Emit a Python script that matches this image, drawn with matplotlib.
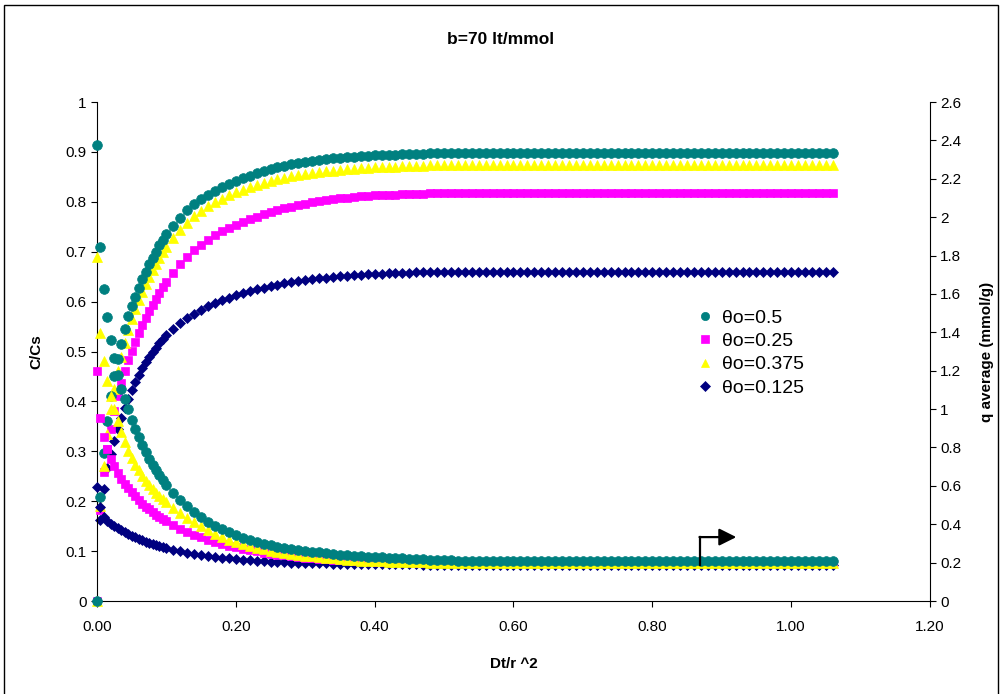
import matplotlib
matplotlib.use("Agg")
import matplotlib.pyplot as plt
from matplotlib.patches import Rectangle
from matplotlib.ticker import FuncFormatter

plt.rcParams['font.family'] = ['Liberation Sans', 'DejaVu Sans']

# Dt/r^2 sample times
t = [0, 0.005, 0.01, 0.015, 0.02, 0.025, 0.03, 0.035, 0.04, 0.045, 0.05,
     0.055, 0.06, 0.065, 0.07, 0.075, 0.08, 0.085, 0.09, 0.095, 0.1,
     0.11, 0.12, 0.13, 0.14, 0.15, 0.16, 0.17, 0.18, 0.19, 0.20,
     0.21, 0.22, 0.23, 0.24, 0.25, 0.26, 0.27, 0.28, 0.29, 0.30,
     0.31, 0.32, 0.33, 0.34, 0.35, 0.36, 0.37, 0.38, 0.39, 0.40,
     0.41, 0.42, 0.43, 0.44, 0.45, 0.46, 0.47, 0.48, 0.49, 0.50,
     0.51, 0.52, 0.53, 0.54, 0.55, 0.56, 0.57, 0.58, 0.59, 0.60,
     0.61, 0.62, 0.63, 0.64, 0.65, 0.66, 0.67, 0.68, 0.69, 0.70,
     0.71, 0.72, 0.73, 0.74, 0.75, 0.76, 0.77, 0.78, 0.79, 0.80,
     0.81, 0.82, 0.83, 0.84, 0.85, 0.86, 0.87, 0.88, 0.89, 0.90,
     0.91, 0.92, 0.93, 0.94, 0.95, 0.96, 0.97, 0.98, 0.99, 1.00,
     1.01, 1.02, 1.03, 1.04, 1.05, 1.06]

# C/Cs (left axis), rising curves
cc_050 = [0, 0.209, 0.296, 0.36, 0.41, 0.45, 0.485, 0.515, 0.545, 0.572, 0.592,
          0.61, 0.628, 0.645, 0.66, 0.675, 0.688, 0.70, 0.713, 0.724, 0.735,
          0.752, 0.768, 0.783, 0.796, 0.806, 0.814, 0.822, 0.829, 0.836, 0.842,
          0.847, 0.852, 0.857, 0.861, 0.865, 0.869, 0.872, 0.875, 0.878, 0.880,
          0.882, 0.884, 0.886, 0.887, 0.888, 0.889, 0.890, 0.891, 0.892, 0.893,
          0.893, 0.894, 0.894, 0.895, 0.895, 0.896, 0.896, 0.897, 0.897, 0.898,
          0.898, 0.898, 0.898, 0.898, 0.898, 0.898, 0.898, 0.898, 0.898, 0.898,
          0.898, 0.898, 0.898, 0.898, 0.898, 0.898, 0.898, 0.898, 0.898, 0.898,
          0.898, 0.898, 0.898, 0.898, 0.898, 0.898, 0.898, 0.898, 0.898, 0.898,
          0.898, 0.898, 0.898, 0.898, 0.898, 0.898, 0.898, 0.898, 0.898, 0.898,
          0.898, 0.898, 0.898, 0.898, 0.898, 0.898, 0.898, 0.898, 0.898, 0.898,
          0.898, 0.898, 0.898, 0.898, 0.898, 0.898]
cc_025 = [0, 0.182, 0.259, 0.305, 0.345, 0.38, 0.41, 0.437, 0.46, 0.482, 0.502,
          0.52, 0.537, 0.553, 0.567, 0.581, 0.594, 0.606, 0.618, 0.629, 0.639,
          0.658, 0.675, 0.69, 0.703, 0.714, 0.724, 0.733, 0.741, 0.748, 0.754,
          0.76, 0.765, 0.77, 0.775, 0.779, 0.783, 0.787, 0.79, 0.793, 0.796,
          0.799, 0.801, 0.803, 0.805, 0.807, 0.808, 0.81, 0.811, 0.812, 0.813,
          0.813, 0.814, 0.814, 0.815, 0.815, 0.816, 0.816, 0.817, 0.817, 0.818,
          0.818, 0.818, 0.818, 0.818, 0.818, 0.818, 0.818, 0.818, 0.818, 0.818,
          0.818, 0.818, 0.818, 0.818, 0.818, 0.818, 0.818, 0.818, 0.818, 0.818,
          0.818, 0.818, 0.818, 0.818, 0.818, 0.818, 0.818, 0.818, 0.818, 0.818,
          0.818, 0.818, 0.818, 0.818, 0.818, 0.818, 0.818, 0.818, 0.818, 0.818,
          0.818, 0.818, 0.818, 0.818, 0.818, 0.818, 0.818, 0.818, 0.818, 0.818,
          0.818, 0.818, 0.818, 0.818, 0.818, 0.818]
cc_0375 = [0, 0.19, 0.27, 0.335, 0.385, 0.425, 0.46, 0.49, 0.518, 0.543, 0.565,
           0.585, 0.603, 0.62, 0.636, 0.65, 0.663, 0.676, 0.688, 0.699, 0.71,
           0.728, 0.744, 0.758, 0.771, 0.782, 0.791, 0.799, 0.806, 0.813, 0.819,
           0.824, 0.829, 0.834, 0.838, 0.842, 0.845, 0.848, 0.851, 0.853, 0.855,
           0.857, 0.859, 0.861, 0.862, 0.864, 0.865, 0.866, 0.867, 0.868, 0.869,
           0.869, 0.870, 0.870, 0.871, 0.871, 0.872, 0.872, 0.873, 0.873, 0.874,
           0.874, 0.874, 0.874, 0.874, 0.874, 0.874, 0.874, 0.874, 0.874, 0.874,
           0.874, 0.874, 0.874, 0.874, 0.874, 0.874, 0.874, 0.874, 0.874, 0.874,
           0.874, 0.874, 0.874, 0.874, 0.874, 0.874, 0.874, 0.874, 0.874, 0.874,
           0.874, 0.874, 0.874, 0.874, 0.874, 0.874, 0.874, 0.874, 0.874, 0.874,
           0.874, 0.874, 0.874, 0.874, 0.874, 0.874, 0.874, 0.874, 0.874, 0.874,
           0.874, 0.874, 0.874, 0.874, 0.874, 0.874]
cc_0125 = [0, 0.162, 0.224, 0.266, 0.295, 0.32, 0.345, 0.366, 0.386, 0.405, 0.422,
           0.438, 0.453, 0.466, 0.478, 0.489, 0.499, 0.508, 0.517, 0.525, 0.533,
           0.546, 0.557, 0.567, 0.576, 0.584, 0.591, 0.597, 0.603, 0.608, 0.613,
           0.617, 0.621, 0.625, 0.628, 0.631, 0.634, 0.637, 0.639, 0.641, 0.643,
           0.645, 0.647, 0.648, 0.65, 0.651, 0.652, 0.653, 0.654, 0.655, 0.656,
           0.656, 0.657, 0.657, 0.658, 0.658, 0.659, 0.659, 0.659, 0.66, 0.66,
           0.66, 0.66, 0.66, 0.66, 0.66, 0.66, 0.66, 0.66, 0.66, 0.66,
           0.66, 0.66, 0.66, 0.66, 0.66, 0.66, 0.66, 0.66, 0.66, 0.66,
           0.66, 0.66, 0.66, 0.66, 0.66, 0.66, 0.66, 0.66, 0.66, 0.66,
           0.66, 0.66, 0.66, 0.66, 0.66, 0.66, 0.66, 0.66, 0.66, 0.66,
           0.66, 0.66, 0.66, 0.66, 0.66, 0.66, 0.66, 0.66, 0.66, 0.66,
           0.66, 0.66, 0.66, 0.66, 0.66, 0.66]

# q average in mmol/g (right axis), decaying curves
q_050 = [2.374, 1.843, 1.625, 1.479, 1.36, 1.266, 1.178, 1.105, 1.053, 1.001, 0.941,
         0.897, 0.853, 0.814, 0.775, 0.741, 0.71, 0.681, 0.655, 0.629, 0.606,
         0.564, 0.528, 0.494, 0.463, 0.437, 0.413, 0.393, 0.374, 0.359, 0.343,
         0.33, 0.32, 0.309, 0.299, 0.291, 0.283, 0.277, 0.271, 0.265, 0.26,
         0.257, 0.253, 0.249, 0.245, 0.242, 0.239, 0.237, 0.234, 0.231, 0.229,
         0.228, 0.226, 0.224, 0.222, 0.22, 0.218, 0.217, 0.216, 0.215, 0.213,
         0.212, 0.211, 0.211, 0.21, 0.21, 0.209, 0.209, 0.209, 0.209, 0.209,
         0.208, 0.208, 0.208, 0.208, 0.208, 0.208, 0.208, 0.208, 0.208, 0.208,
         0.208, 0.208, 0.208, 0.208, 0.208, 0.208, 0.208, 0.208, 0.208, 0.208,
         0.208, 0.208, 0.208, 0.208, 0.208, 0.208, 0.208, 0.208, 0.208, 0.208,
         0.208, 0.208, 0.208, 0.208, 0.208, 0.208, 0.208, 0.208, 0.208, 0.208,
         0.208, 0.208, 0.208, 0.208, 0.208, 0.208]
q_025 = [1.196, 0.952, 0.855, 0.79, 0.742, 0.703, 0.668, 0.638, 0.611, 0.588, 0.566,
         0.545, 0.526, 0.508, 0.492, 0.477, 0.463, 0.45, 0.438, 0.427, 0.416,
         0.395, 0.377, 0.361, 0.346, 0.333, 0.32, 0.309, 0.299, 0.289, 0.281,
         0.273, 0.265, 0.26, 0.252, 0.247, 0.242, 0.239, 0.234, 0.231, 0.226,
         0.224, 0.221, 0.218, 0.216, 0.214, 0.213, 0.211, 0.209, 0.208, 0.205,
         0.204, 0.203, 0.203, 0.202, 0.201, 0.2, 0.2, 0.199, 0.199, 0.198,
         0.198, 0.198, 0.198, 0.198, 0.198, 0.198, 0.198, 0.198, 0.198, 0.198,
         0.198, 0.198, 0.198, 0.198, 0.198, 0.198, 0.198, 0.198, 0.198, 0.198,
         0.198, 0.198, 0.198, 0.198, 0.198, 0.198, 0.198, 0.198, 0.198, 0.198,
         0.198, 0.198, 0.198, 0.198, 0.198, 0.198, 0.198, 0.198, 0.198, 0.198,
         0.198, 0.198, 0.198, 0.198, 0.198, 0.198, 0.198, 0.198, 0.198, 0.198,
         0.198, 0.198, 0.198, 0.198, 0.198, 0.198]
q_0375 = [1.794, 1.396, 1.248, 1.144, 1.066, 1.001, 0.936, 0.879, 0.827, 0.78, 0.744,
          0.71, 0.681, 0.653, 0.627, 0.603, 0.582, 0.564, 0.546, 0.53, 0.515,
          0.486, 0.46, 0.434, 0.411, 0.39, 0.369, 0.351, 0.335, 0.32, 0.307,
          0.296, 0.286, 0.278, 0.27, 0.263, 0.257, 0.252, 0.247, 0.242, 0.237,
          0.232, 0.229, 0.226, 0.222, 0.219, 0.216, 0.213, 0.211, 0.21, 0.208,
          0.207, 0.205, 0.204, 0.203, 0.202, 0.202, 0.201, 0.2, 0.199, 0.198,
          0.198, 0.198, 0.198, 0.198, 0.198, 0.198, 0.198, 0.198, 0.198, 0.198,
          0.198, 0.198, 0.198, 0.198, 0.198, 0.198, 0.198, 0.198, 0.198, 0.198,
          0.198, 0.198, 0.198, 0.198, 0.198, 0.198, 0.198, 0.198, 0.198, 0.198,
          0.198, 0.198, 0.198, 0.198, 0.198, 0.198, 0.198, 0.198, 0.198, 0.198,
          0.198, 0.198, 0.198, 0.198, 0.198, 0.198, 0.198, 0.198, 0.198, 0.198,
          0.198, 0.198, 0.198, 0.198, 0.198, 0.198]
q_0125 = [0.595, 0.491, 0.437, 0.416, 0.403, 0.39, 0.38, 0.369, 0.359, 0.349, 0.341,
          0.333, 0.325, 0.317, 0.309, 0.302, 0.296, 0.291, 0.286, 0.281, 0.276,
          0.268, 0.26, 0.252, 0.247, 0.242, 0.237, 0.231, 0.226, 0.224, 0.218,
          0.216, 0.213, 0.211, 0.208, 0.205, 0.203, 0.202, 0.2, 0.2, 0.198,
          0.198, 0.197, 0.196, 0.195, 0.195, 0.194, 0.194, 0.193, 0.192, 0.192,
          0.192, 0.192, 0.191, 0.191, 0.191, 0.191, 0.19, 0.19, 0.19, 0.19,
          0.19, 0.19, 0.19, 0.19, 0.19, 0.19, 0.19, 0.19, 0.19, 0.19,
          0.19, 0.19, 0.19, 0.19, 0.19, 0.19, 0.19, 0.19, 0.19, 0.19,
          0.19, 0.19, 0.19, 0.19, 0.19, 0.19, 0.19, 0.19, 0.19, 0.19,
          0.19, 0.19, 0.19, 0.19, 0.19, 0.19, 0.19, 0.19, 0.19, 0.19,
          0.19, 0.19, 0.19, 0.19, 0.19, 0.19, 0.19, 0.19, 0.19, 0.19,
          0.19, 0.19, 0.19, 0.19, 0.19, 0.19]

labels = ['θo=0.5', 'θo=0.25', 'θo=0.375', 'θo=0.125']
colors = ['#008080', '#FF00FF', '#FFFF00', '#000080']
markers = ['o', 's', '^', 'D']
msizes = [7.0, 6.2, 7.4, 5.6]
zorders = [5, 3, 4, 2]

fig = plt.figure(figsize=(10.02, 6.94), dpi=100)
ax = fig.add_axes([0.0968, 0.134, 0.8313, 0.719])
ax2 = ax.twinx()

handles = []
for cc, q, lab, c, m, ms, z in zip([cc_050, cc_025, cc_0375, cc_0125],
                                   [q_050, q_025, q_0375, q_0125],
                                   labels, colors, markers, msizes, zorders):
    h, = ax.plot(t, cc, linestyle='none', marker=m, ms=ms, color=c,
                 mec=c, mew=0.5, clip_on=False, zorder=z, label=lab)
    ax2.plot(t, q, linestyle='none', marker=m, ms=ms, color=c,
             mec=c, mew=0.5, clip_on=False, zorder=z)
    handles.append(h)

ax.set_xlim(0, 1.2)
ax.set_ylim(0, 1)
ax2.set_ylim(0, 2.6)
ax.set_xticks([0, 0.2, 0.4, 0.6, 0.8, 1.0, 1.2])
ax.xaxis.set_major_formatter(FuncFormatter(lambda v, p: f'{v:.2f}'))
ax.set_yticks([i / 10 for i in range(11)])
ax.yaxis.set_major_formatter(FuncFormatter(lambda v, p: f'{v:g}'))
ax2.set_yticks([i / 5 for i in range(14)])
ax2.yaxis.set_major_formatter(FuncFormatter(lambda v, p: f'{v:g}'))

for a in (ax, ax2):
    a.spines['top'].set_visible(False)
    a.tick_params(direction='out', length=4, width=0.8, labelsize=11, color='black')
ax.spines['right'].set_visible(False)
ax2.spines['left'].set_visible(False)
ax2.spines['bottom'].set_visible(False)
ax.tick_params(axis='x', pad=10)

ax.set_xlabel('Dt/r ^2', fontsize=11, fontweight='bold')
ax.xaxis.set_label_coords(0.5, -0.112)
ax.set_ylabel('C/Cs', fontsize=11, fontweight='bold')
ax.yaxis.set_label_coords(-0.064, 0.5)
ax2.set_ylabel('q average (mmol/g)', fontsize=11, fontweight='bold')
ax2.yaxis.set_label_coords(1.06, 0.5)

leg = ax2.legend(handles, labels, loc='upper left', bbox_to_anchor=(0.706, 0.612),
                 frameon=False, fontsize=14, handlelength=0.6, handletextpad=0.6,
                 labelspacing=0.29, borderpad=0.2, markerscale=0.85)

# arrow pointing the lower curves to the right axis
ax2.plot([0.869, 0.869], [0.187, 0.333], color='black', lw=1.6, zorder=10)
ax2.annotate('', xy=(0.921, 0.333), xytext=(0.868, 0.333),
             arrowprops=dict(arrowstyle='-|>', mutation_scale=26, color='black',
                             lw=1.6, shrinkA=0, shrinkB=0), zorder=10)

fig.text(0.5, 1 - 40 / 694, 'b=70 lt/mmol', ha='center', va='center',
         fontsize=12.5, fontweight='bold')
fig.patches.append(Rectangle((0.004, -0.01), 0.992, 1.003, transform=fig.transFigure,
                             fill=False, edgecolor='black', lw=1))

fig.savefig('out.png', dpi=100)
